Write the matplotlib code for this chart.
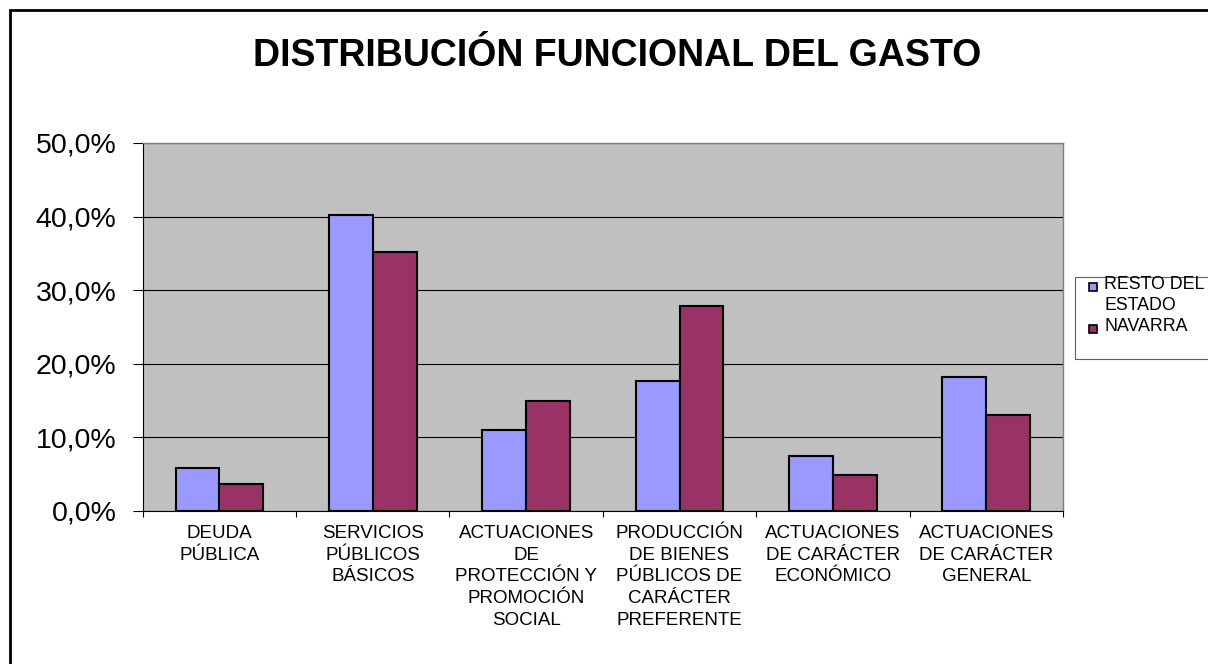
import matplotlib
matplotlib.use("Agg")
import matplotlib.pyplot as plt
import numpy as np
from matplotlib.patches import Rectangle

# ---- data ----
categories = [
    "DEUDA\nPÚBLICA",
    "SERVICIOS\nPÚBLICOS\nBÁSICOS",
    "ACTUACIONES\nDE\nPROTECCIÓN Y\nPROMOCIÓN\nSOCIAL",
    "PRODUCCIÓN\nDE BIENES\nPÚBLICOS DE\nCARÁCTER\nPREFERENTE",
    "ACTUACIONES\nDE CARÁCTER\nECONÓMICO",
    "ACTUACIONES\nDE CARÁCTER\nGENERAL",
]
series_names = ["RESTO DEL\nESTADO", "NAVARRA"]
resto = [5.8, 40.2, 11.0, 17.6, 7.5, 18.2]
navarra = [3.7, 35.2, 15.0, 27.8, 4.9, 13.0]
yticks = [0, 10, 20, 30, 40, 50]
ytick_labels = ["0,0%", "10,0%", "20,0%", "30,0%", "40,0%", "50,0%"]
title = "DISTRIBUCIÓN FUNCIONAL DEL GASTO"

colors = ["#9999FF", "#993366"]

plt.rcParams["font.family"] = ["Liberation Sans", "DejaVu Sans"]

W, H = 1208, 664
fig = plt.figure(figsize=(W / 100, H / 100), dpi=100)
fig.patch.set_facecolor("white")

# outer chart border (extends past right and bottom edges)
fig.patches.append(Rectangle((10 / W, -0.05), 1.2, 1 - 10 / H + 0.05,
                             transform=fig.transFigure, fill=False,
                             edgecolor="black", linewidth=2.0, zorder=0))

ax = fig.add_axes([142.7 / W, 1 - 511 / H, (1063 - 142.7) / W, (511 - 143) / H])
ax.set_facecolor("#C0C0C0")

x = np.arange(len(categories))
bw = 1 / 3.5
ax.bar(x - bw / 2, resto, bw, color=colors[0], edgecolor="black", linewidth=1.5, zorder=3)
ax.bar(x + bw / 2, navarra, bw, color=colors[1], edgecolor="black", linewidth=1.5, zorder=3)

ax.set_xlim(-0.5, len(categories) - 0.5)
ax.set_ylim(0, 50)
ax.set_yticks(yticks)
ax.set_yticklabels(ytick_labels, fontsize=20.5)
ax.tick_params(axis="y", length=7, width=0.8, pad=12, color="black")
ax.yaxis.grid(True, color="black", linewidth=0.8, zorder=1)
ax.set_axisbelow(True)

ax.set_xticks(x)
ax.set_xticklabels(categories, fontsize=13.5, linespacing=1.36)
ax.tick_params(axis="x", which="major", length=0, pad=10)
ax.set_xticks(np.arange(-0.5, len(categories)), minor=True)
ax.tick_params(axis="x", which="minor", length=4, width=0.8, color="black")

for s in ["top", "right"]:
    ax.spines[s].set_color("#808080")
    ax.spines[s].set_linewidth(1.0)
for s in ["left", "bottom"]:
    ax.spines[s].set_color("black")
    ax.spines[s].set_linewidth(0.8)

fig.text(617 / W, 1 - 56 / H, title, ha="center", va="center",
         fontsize=27, fontweight="bold")

# legend (manual box running to the right edge like the original)
fig.patches.append(Rectangle((1075 / W, 1 - 359 / H), 0.2, (359 - 277) / H,
                             transform=fig.transFigure, facecolor="white",
                             edgecolor="#606060", linewidth=0.8, zorder=5))
marker_y = [287, 329]
for name, c, my in zip(series_names, colors, marker_y):
    fig.patches.append(Rectangle((1089 / W, 1 - (my + 4) / H), 8 / W, 8 / H,
                                 transform=fig.transFigure, facecolor=c,
                                 edgecolor="black", linewidth=1.2, zorder=6))
    fig.text(1104 / W, 1 - (my - 11) / H, name, ha="left", va="top",
             fontsize=12.8, linespacing=1.32, zorder=6)

fig.savefig("out.png", dpi=100)
